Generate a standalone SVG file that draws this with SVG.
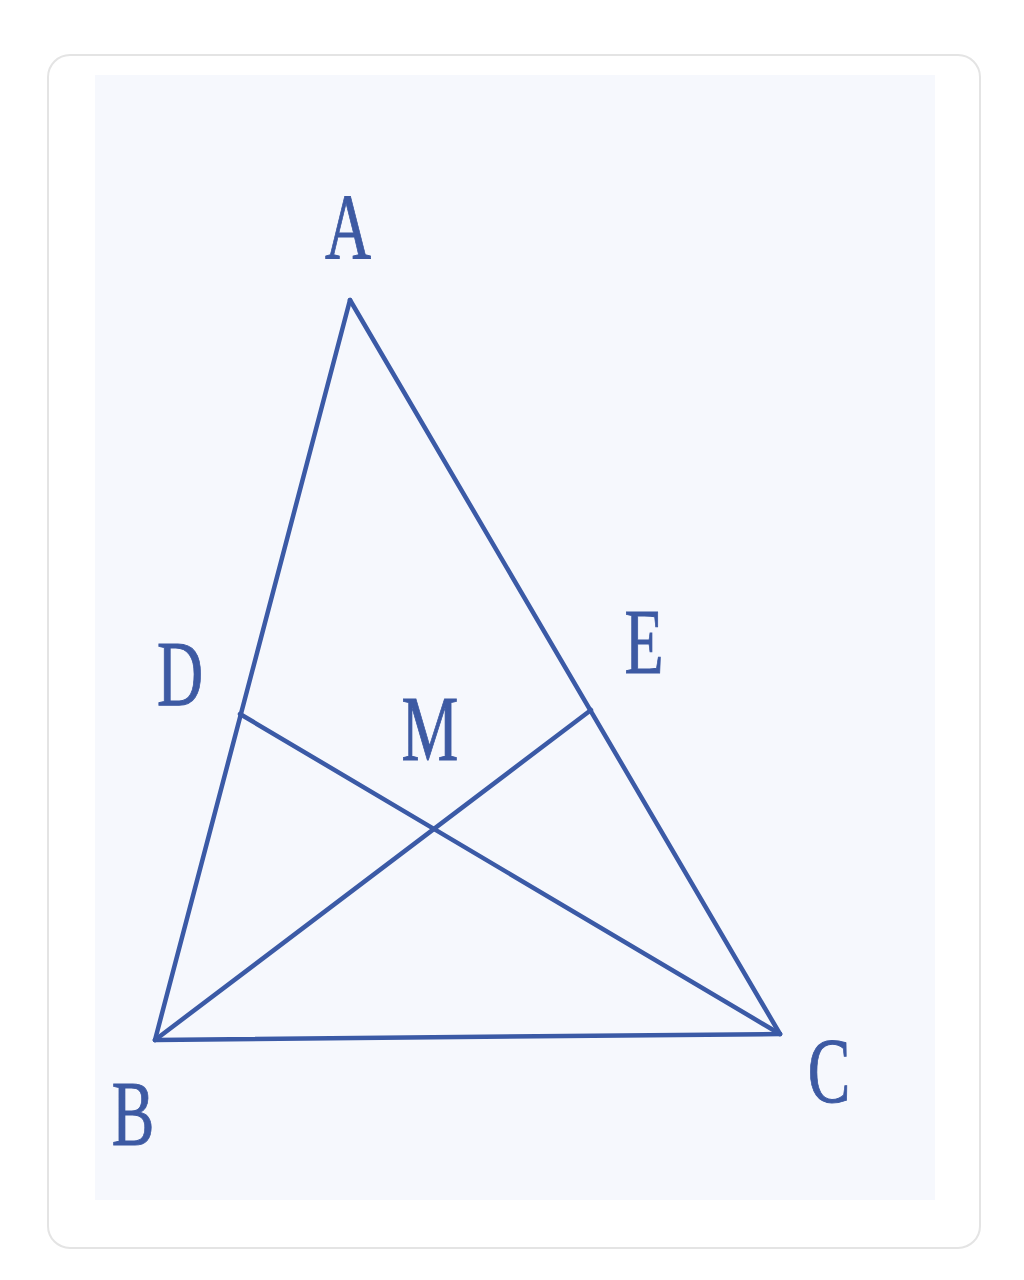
<svg xmlns="http://www.w3.org/2000/svg" width="1024" height="1280" viewBox="0 0 1024 1280">
<style>
.edge{stroke:#3b5aa6;stroke-width:4.5;stroke-linecap:round;fill:none}
.lbl{font-family:"Liberation Serif","DejaVu Serif",serif;font-size:94px;fill:#3d5aa3;stroke:#3d5aa3;stroke-width:1;text-anchor:middle}
</style>
<rect width="1024" height="1280" fill="#ffffff"/>
<rect x="48" y="55" width="932" height="1193" rx="22" fill="#ffffff" stroke="#e4e4e4" stroke-width="2"/>
<rect x="95" y="75" width="840" height="1125" fill="#f6f8fd"/>
<g id="connectors">
<line class="edge" x1="350" y1="300" x2="155" y2="1040"/>
<line class="edge" x1="350" y1="300" x2="780" y2="1034"/>
<line class="edge" x1="155" y1="1040" x2="780" y2="1034"/>
<line class="edge" x1="240" y1="714" x2="780" y2="1034"/>
<line class="edge" x1="155" y1="1040" x2="591" y2="710"/>
</g>
<g id="node-A"><text class="lbl" transform="translate(348,258) scale(0.68,1)">A</text></g>
<g id="node-D"><text class="lbl" transform="translate(180,705) scale(0.68,1)">D</text></g>
<g id="node-E"><text class="lbl" transform="translate(644,673) scale(0.68,1)">E</text></g>
<g id="node-M"><text class="lbl" transform="translate(430,760) scale(0.68,1)">M</text></g>
<g id="node-B"><text class="lbl" transform="translate(133,1145) scale(0.68,1)">B</text></g>
<g id="node-C"><text class="lbl" transform="translate(829,1102) scale(0.68,1)">C</text></g>
</svg>
